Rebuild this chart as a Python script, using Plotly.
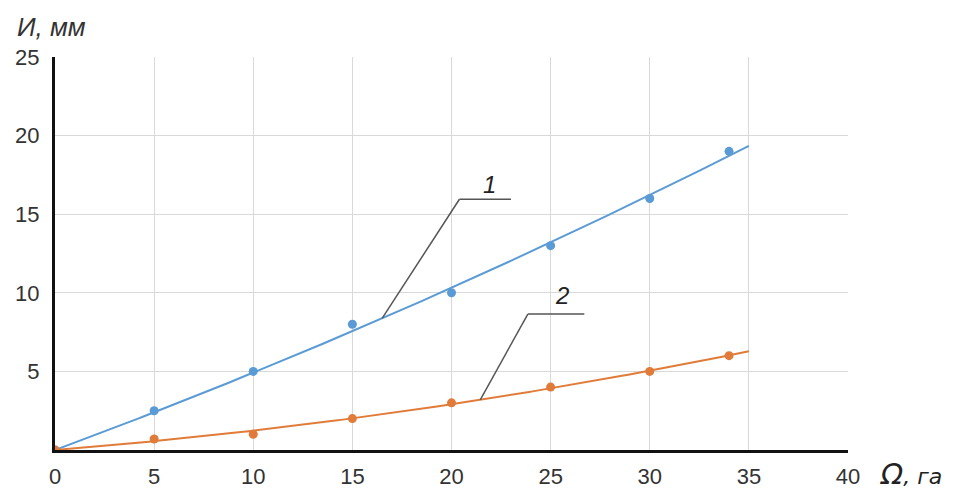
import numpy as np
import plotly.graph_objects as go

# Measured points: area (ha) vs. value (mm) for two series
area = [0, 5, 10, 15, 20, 25, 30, 34]
series_1 = [0, 2.5, 5, 8, 10, 13, 16, 19]
series_2 = [0, 0.7, 1.0, 2, 3, 4, 5, 6]

x_ticks = [0, 5, 10, 15, 20, 25, 30, 35, 40]
y_ticks = [5, 10, 15, 20, 25]

BLUE = "#5b9bd5"
ORANGE = "#e07b39"


def trend_through_origin(x, y):
    """2nd-order polynomial trend with the intercept fixed at zero."""
    x = np.asarray(x, float)
    y = np.asarray(y, float)
    A = np.column_stack([x, x ** 2])
    (a, b), *_ = np.linalg.lstsq(A, y, rcond=None)
    return lambda t: a * np.asarray(t) + b * np.asarray(t) ** 2


xt = np.linspace(0, 35, 200)
fit1 = trend_through_origin(area, series_1)
fit2 = trend_through_origin(area, series_2)

fig = go.Figure()
fig.add_trace(go.Scatter(x=xt, y=fit1(xt), mode="lines",
                         line=dict(color=BLUE, width=2), hoverinfo="skip"))
fig.add_trace(go.Scatter(x=xt, y=fit2(xt), mode="lines",
                         line=dict(color=ORANGE, width=2), hoverinfo="skip"))
fig.add_trace(go.Scatter(x=area, y=series_1, mode="markers",
                         marker=dict(color=BLUE, size=9)))
fig.add_trace(go.Scatter(x=area, y=series_2, mode="markers",
                         marker=dict(color=ORANGE, size=9)))

# Leader lines with curve numbers
leader_col = "#555555"


def leader(x_on_curve, y_on_curve, x_knee, y_knee, x_end, label, lx, ly):
    fig.add_shape(type="line", xref="x", yref="y",
                  x0=x_on_curve, y0=y_on_curve, x1=x_knee, y1=y_knee,
                  line=dict(color=leader_col, width=1.5))
    fig.add_shape(type="line", xref="x", yref="y",
                  x0=x_knee, y0=y_knee, x1=x_end, y1=y_knee,
                  line=dict(color=leader_col, width=1.5))
    fig.add_annotation(x=lx, y=ly, xref="x", yref="y", text=label,
                       showarrow=False,
                       font=dict(family="Liberation Sans", size=24, color="#222"))


leader(16.5, float(fit1(16.5)), 20.4, 15.95, 23.0, "<i>1</i>", 21.9, 16.9)
leader(21.45, float(fit2(21.45)), 23.85, 8.65, 26.7, "<i>2</i>", 25.55, 9.8)

fig.update_layout(
    width=962, height=491,
    margin=dict(l=55, r=114, t=57, b=41),
    paper_bgcolor="white", plot_bgcolor="white",
    showlegend=False,
    font=dict(family="Liberation Sans", size=22, color="#333333"),
    xaxis=dict(range=[0, 40], tickvals=x_ticks, showgrid=True,
               gridcolor="#d9d9d9", gridwidth=1, zeroline=False,
               showline=True, linecolor="#111111", linewidth=3,
               ticks="", ticklabelstandoff=5, automargin=False),
    yaxis=dict(range=[0, 25], tickvals=y_ticks, showgrid=True,
               gridcolor="#d9d9d9", gridwidth=1, zeroline=False,
               showline=True, linecolor="#111111", linewidth=3,
               ticks="", ticklabelstandoff=8, automargin=False),
)

# Axis titles
fig.add_annotation(xref="paper", yref="paper", x=-0.05, y=1.0, yshift=30,
                   xanchor="left", yanchor="middle", showarrow=False,
                   text="<i>И, мм</i>",
                   font=dict(family="Liberation Sans", size=26, color="#333333"))
fig.add_annotation(xref="paper", yref="paper", x=1.0, y=0.0, xshift=30,
                   yshift=-24, xanchor="left", yanchor="middle", showarrow=False,
                   text="<span style='font-family:DejaVu Sans;font-size:29px'><i>Ω</i></span><i>, га</i>",
                   font=dict(family="DejaVu Sans", size=22, color="#222222"))

fig.write_html("out.html")
